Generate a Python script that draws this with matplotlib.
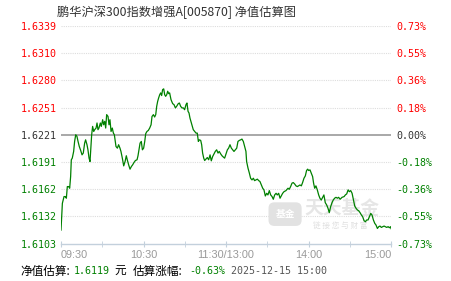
import matplotlib
matplotlib.use("Agg")
import matplotlib.pyplot as plt

plt.rcParams['font.family'] = ['Noto Sans CJK SC', 'DejaVu Sans']

# data (minutes after 09:30 on the trading clock, % change vs last NAV)
minutes = [0, 1, 2.2, 3.2, 3.9, 4.6, 5.6, 6.3, 7.0, 7.5, 8.2, 9.2, 9.9, 10.7, 11.6, 12.4,
           13.3, 14.3, 15.3, 16.2, 17.2, 17.9, 18.9, 19.6, 20.4, 21.1, 21.8, 22.3, 23.0,
           23.8, 24.5, 25.5, 26.2, 26.9, 27.6, 28.6, 29.3, 30.3, 31.0, 31.8, 32.5, 33.2,
           34.2, 34.9, 35.6, 36.4, 37.3, 38.1, 38.8, 39.5, 40.0, 41.0, 41.9, 42.9, 43.6,
           44.6, 45.6, 46.6, 47.5, 48.2, 49.2, 50.2, 51.2, 52.1, 53.1, 54.1, 55.3, 56.0,
           56.7, 57.5, 58.4, 59.2, 60.1, 60.9, 61.6, 62.5, 63.5, 64.5, 65.5, 66.2, 67.2,
           68.1, 68.9, 69.6, 70.3, 71.0, 71.8, 72.5, 73.2, 73.9, 74.7, 75.4, 76.1, 76.9,
           77.6, 78.3, 79.0, 80.0, 81.2, 82.2, 83.2, 84.1, 85.3, 86.1, 87.0, 88.0, 89.0,
           89.9, 90.9, 91.6, 92.4, 93.1, 93.8, 94.5, 95.3, 96.2, 97.2, 98.2, 99.1, 99.9,
           100.6, 101.6, 102.3, 103.0, 103.8, 104.5, 105.4, 106.4, 107.4, 108.4, 109.3,
           110.3, 111.3, 112.2, 113.2, 114.2, 115.1, 116.1, 117.1, 118.1, 119.0, 120.0,
           121.0, 121.9, 122.9, 123.9, 124.8, 125.8, 126.8, 127.8, 128.7, 129.7, 130.7,
           131.6, 132.6, 133.6, 134.5, 135.0, 136.0, 137.0, 137.9, 138.9, 139.9, 140.8,
           141.8, 142.8, 143.8, 144.7, 145.7, 146.7, 147.6, 148.6, 149.6, 150.5, 151.5,
           152.5, 153.5, 154.4, 155.4, 156.4, 157.3, 158.3, 159.3, 160.2, 161.2, 162.2,
           163.6, 165.1, 166.0, 167.0, 168.0, 168.9, 169.9, 170.9, 171.9, 172.8, 173.8,
           174.8, 175.7, 176.7, 177.7, 178.6, 179.4, 180.1, 181.1, 182.0, 183.0, 183.7,
           184.5, 185.4, 186.4, 187.4, 188.3, 189.3, 190.3, 191.2, 192.2, 193.2, 194.2,
           195.1, 196.1, 197.1, 198.0, 199.0, 200.0, 201.0, 201.9, 203.0, 204.4, 205.9,
           206.8, 207.8, 208.8, 209.7, 210.7, 211.7, 212.7, 213.6, 214.6, 215.6, 216.5,
           217.5, 218.5, 219.4, 220.4, 221.4, 222.3, 223.3, 224.3, 225.3, 226.2, 227.2,
           228.2, 229.1, 230.1, 231.1, 232.0, 233.0, 234.0, 235.0, 235.9, 236.9, 237.9,
           238.8, 239.8, 240]
change_pct = [-0.640, -0.460, -0.415, -0.415, -0.426, -0.348, -0.348, -0.359, -0.281, -0.168,
              -0.157, -0.112, -0.045, 0.000, -0.011, -0.045, -0.079, -0.105, -0.135, -0.123,
              -0.056, -0.034, -0.067, -0.101, -0.157, -0.180, -0.079, 0.000, 0.056, 0.022,
              0.034, 0.045, 0.079, 0.034, 0.045, 0.079, 0.056, 0.101, 0.067, 0.090, 0.045,
              0.135, 0.123, 0.067, 0.101, 0.022, 0.045, 0.011, 0.000, -0.045, -0.079, -0.090,
              -0.067, -0.090, -0.112, -0.157, -0.209, -0.180, -0.141, -0.168, -0.202, -0.231,
              -0.213, -0.202, -0.186, -0.173, -0.168, -0.141, -0.101, -0.056, -0.045, -0.101,
              -0.090, -0.045, 0.007, 0.022, 0.029, 0.045, 0.067, 0.123, 0.135, 0.119, 0.135,
              0.191, 0.224, 0.247, 0.269, 0.281, 0.263, 0.303, 0.308, 0.269, 0.258, 0.269,
              0.292, 0.276, 0.281, 0.236, 0.209, 0.202, 0.180, 0.191, 0.209, 0.213, 0.191,
              0.180, 0.180, 0.168, 0.202, 0.213, 0.157, 0.146, 0.112, 0.090, 0.067, 0.034,
              0.022, 0.011, 0.011, -0.045, -0.034, -0.038, -0.067, -0.123, -0.157, -0.173,
              -0.164, -0.153, -0.168, -0.135, -0.175, -0.146, -0.128, -0.112, -0.101, -0.123,
              -0.112, -0.128, -0.141, -0.150, -0.157, -0.128, -0.101, -0.090, -0.067, -0.090,
              -0.101, -0.112, -0.101, -0.090, -0.045, -0.038, -0.034, -0.029, -0.045, -0.079,
              -0.112, -0.180, -0.224, -0.258, -0.292, -0.303, -0.292, -0.308, -0.303, -0.298,
              -0.308, -0.314, -0.337, -0.359, -0.370, -0.411, -0.393, -0.404, -0.375, -0.404,
              -0.415, -0.433, -0.404, -0.393, -0.404, -0.393, -0.426, -0.411, -0.393, -0.382,
              -0.375, -0.359, -0.366, -0.348, -0.325, -0.321, -0.330, -0.343, -0.348, -0.343,
              -0.337, -0.343, -0.321, -0.292, -0.276, -0.240, -0.231, -0.240, -0.236, -0.258,
              -0.281, -0.325, -0.359, -0.343, -0.370, -0.404, -0.426, -0.438, -0.420, -0.404,
              -0.456, -0.471, -0.494, -0.523, -0.483, -0.456, -0.438, -0.426, -0.420, -0.426,
              -0.420, -0.433, -0.420, -0.415, -0.404, -0.397, -0.370, -0.382, -0.375, -0.393,
              -0.438, -0.478, -0.494, -0.505, -0.510, -0.523, -0.539, -0.550, -0.577, -0.584,
              -0.572, -0.572, -0.550, -0.528, -0.539, -0.572, -0.595, -0.606, -0.629, -0.617,
              -0.613, -0.622, -0.617, -0.613, -0.617, -0.622, -0.617, -0.624, -0.617, -0.630]

pct_ticks = [0.73, 0.5475, 0.365, 0.1825, 0.0, -0.1825, -0.365, -0.5475, -0.73]
nav_labels = ['1.6339', '1.6310', '1.6280', '1.6251', '1.6221', '1.6191', '1.6162', '1.6132', '1.6103']
pct_labels = ['0.73%', '0.55%', '0.36%', '0.18%', '0.00%', '-0.18%', '-0.36%', '-0.55%', '-0.73%']
time_ticks = [0, 60, 120, 180, 240]
time_labels = ['09:30', '10:30', '11:30/13:00', '14:00', '15:00']

title = '鹏华沪深300指数增强A[005870] 净值估算图'
est_nav = '1.6119'
est_change = '-0.63%'
stamp = '2025-12-15 15:00'

RED = '#ff0000'
GREEN = '#008000'
DARK = '#333333'
AXIS = '#c3d0dc'
MONO = 'DejaVu Sans Mono'


def tick_colour(v):
    if v > 0:
        return RED
    if v < 0:
        return GREEN
    return DARK


fig = plt.figure(figsize=(4.51, 2.81), dpi=100)
ax = fig.add_axes([61 / 451, 1 - 243.5 / 281, 330 / 451, 217.5 / 281])
ax.set_xlim(0, 240)
ax.set_ylim(-0.73, 0.73)

# dotted grid, solid zero line
for v in pct_ticks:
    if v == 0:
        ax.axhline(v, color='#999999', lw=1.2, zorder=2)
    elif v > -0.73:
        ax.axhline(v, color='#dddddd', lw=0.8, ls=(0, (1, 1)), zorder=1)

# faint watermark
ax.text(0.852, 0.163, '天天基金', transform=ax.transAxes, ha='center', va='center',
        fontsize=13.5, color='#e6e6e6', fontweight='bold', zorder=1)
ax.text(0.845, 0.083, '链 接 您 与 财 富', transform=ax.transAxes, ha='center', va='center',
        fontsize=5.5, color='#e0e0e0', zorder=1)
ax.text(0.679, 0.135, '基金', transform=ax.transAxes, ha='center', va='center',
        fontsize=7, color='white', fontweight='bold', zorder=1,
        bbox=dict(boxstyle='round,pad=0.7,rounding_size=0.6', fc='#e2e2e2', ec='none'))

ax.plot(minutes, change_pct, color=GREEN, lw=0.9, zorder=3)

for s in ['top', 'left', 'right']:
    ax.spines[s].set_visible(False)
ax.spines['bottom'].set_color(AXIS)
ax.spines['bottom'].set_linewidth(1.0)

ax.set_xticks(time_ticks, time_labels)
ax.set_xticks([30, 90, 150, 210], minor=True)
ax.tick_params(axis='x', which='both', direction='inout', length=5, color=AXIS,
               labelcolor='#999999', labelsize=7.8, pad=2)
xlabs = ax.get_xticklabels()
for lab in xlabs:
    lab.set_family('Liberation Sans')
xlabs[0].set_ha('left')
xlabs[-1].set_ha('right')

ax.set_yticks(pct_ticks, nav_labels)
ax.tick_params(axis='y', length=0, pad=3, labelsize=7.2)
for lab, v in zip(ax.get_yticklabels(), pct_ticks):
    lab.set_color(tick_colour(v))
    lab.set_family(MONO)

ax2 = ax.twinx()
ax2.set_ylim(ax.get_ylim())
ax2.set_yticks(pct_ticks, pct_labels)
ax2.tick_params(axis='y', length=0, pad=4, labelsize=7.2)
for s in ax2.spines.values():
    s.set_visible(False)
for lab, v in zip(ax2.get_yticklabels(), pct_ticks):
    lab.set_color(tick_colour(v))
    lab.set_family(MONO)

fig.text(57 / 451, 1 - 12 / 281, title, fontsize=8.8, color=DARK, va='center')

y_foot = 1 - 271.5 / 281
fig.text(20 / 451, y_foot, '净值估算:', fontsize=8.4, color='black', va='center')
fig.text(74 / 451, y_foot, est_nav, fontsize=7.2, color=GREEN, va='center', family=MONO)
fig.text(114 / 451, y_foot, '元', fontsize=8.4, color='black', va='center')
fig.text(133 / 451, y_foot, '估算涨幅:', fontsize=8.4, color='black', va='center')
fig.text(189 / 451, y_foot, est_change, fontsize=7.2, color=GREEN, va='center', family=MONO)
fig.text(231 / 451, y_foot, stamp, fontsize=7.2, color='#555555', va='center', family=MONO)

fig.savefig('out.png', dpi=100)
